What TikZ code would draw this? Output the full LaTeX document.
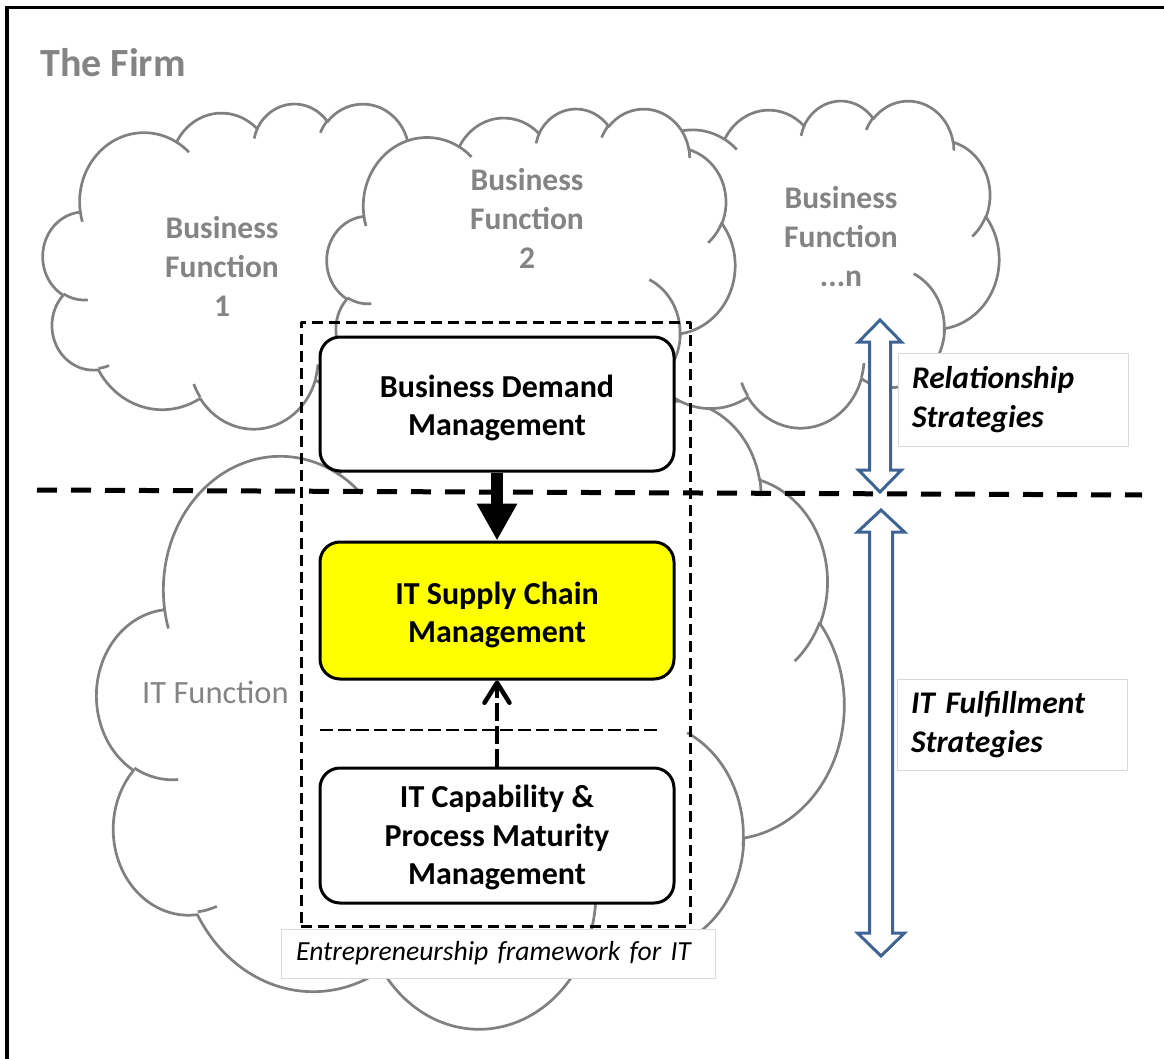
\documentclass[tikz,border=0pt]{standalone}
\usepackage{fontspec}
\setmainfont{Carlito}
\usetikzlibrary{arrows.meta}

\definecolor{cloudgray}{RGB}{128,128,128}
\definecolor{textgray}{RGB}{132,132,132}
\definecolor{arrowblue}{RGB}{62,100,150}
\definecolor{labelgray}{RGB}{217,217,217}
\definecolor{boxyellow}{RGB}{255,255,0}

% visual-angle (DrawingML) arc -> parametric angle
\newcommand\prepcloudarc[5]{%
  \pgfmathsetmacro\pcA{atan2((#2)*sin(#4),(#3)*cos(#4))}%
  \pgfmathsetmacro\pcB{atan2((#2)*sin((#4)+(#5)),(#3)*cos((#4)+(#5)))}%
  \pgfmathsetmacro\pcC{mod((\pcB)-(\pcA)+720,360)}%
  \expandafter\xdef\csname cloudS#1\endcsname{\pcA}%
  \expandafter\xdef\csname cloudD#1\endcsname{\pcC}%
}

\newcommand\drawcloud[4]{%
  \pgfmathsetmacro\cldxs{(#3)/43.2}%
  \pgfmathsetmacro\cldys{(#4)/43.2}%
  \begin{scope}[shift={(#1,#2)},xscale=\cldxs,yscale=\cldys]
    \filldraw[cloudstyle] (3.900,14.370)
      arc[start angle=\cloudSA,delta angle=\cloudDA,x radius=6.753,y radius=9.190]
      arc[start angle=\cloudSB,delta angle=\cloudDB,x radius=5.333,y radius=7.267]
      arc[start angle=\cloudSC,delta angle=\cloudDC,x radius=4.365,y radius=5.945]
      arc[start angle=\cloudSD,delta angle=\cloudDD,x radius=4.857,y radius=6.595]
      arc[start angle=\cloudSE,delta angle=\cloudDE,x radius=5.333,y radius=7.273]
      arc[start angle=\cloudSF,delta angle=\cloudDF,x radius=6.775,y radius=9.220]
      arc[start angle=\cloudSG,delta angle=\cloudDG,x radius=5.785,y radius=7.867]
      arc[start angle=\cloudSH,delta angle=\cloudDH,x radius=6.752,y radius=9.215]
      arc[start angle=\cloudSI,delta angle=\cloudDI,x radius=7.720,y radius=10.543]
      arc[start angle=\cloudSJ,delta angle=\cloudDJ,x radius=4.360,y radius=5.918]
      arc[start angle=\cloudSK,delta angle=\cloudDK,x radius=4.345,y radius=5.945]
      -- cycle;
    \draw[cloudstyle]
      (4.693,26.177) arc[start angle=\cloudSL,delta angle=\cloudDL,x radius=4.345,y radius=5.945]
      (6.928,34.899) arc[start angle=\cloudSM,delta angle=\cloudDM,x radius=4.360,y radius=5.918]
      (16.478,39.090) arc[start angle=\cloudSN,delta angle=\cloudDN,x radius=6.752,y radius=9.215]
      (28.827,34.751) arc[start angle=\cloudSO,delta angle=\cloudDO,x radius=6.752,y radius=9.215]
      (34.129,22.954) arc[start angle=\cloudSP,delta angle=\cloudDP,x radius=5.785,y radius=7.867]
      (41.798,15.354) arc[start angle=\cloudSQ,delta angle=\cloudDQ,x radius=5.333,y radius=7.273]
      (38.324,5.426) arc[start angle=\cloudSR,delta angle=\cloudDR,x radius=4.857,y radius=6.595]
      (29.078,3.952) arc[start angle=\cloudSS,delta angle=\cloudDS,x radius=4.857,y radius=6.595]
      (22.141,4.720) arc[start angle=\cloudST,delta angle=\cloudDT,x radius=4.365,y radius=5.945]
      (14.000,5.192) arc[start angle=\cloudSU,delta angle=\cloudDU,x radius=6.753,y radius=9.190]
      (4.127,15.789) arc[start angle=\cloudSV,delta angle=\cloudDV,x radius=6.753,y radius=9.190];
  \end{scope}}

\begin{document}
\begin{tikzpicture}[x=1pt,y=-1pt,line join=round,
  cloudstyle/.style={draw=cloudgray,fill=white,line width=2.7pt},
  cloudtext/.style={text=textgray,font=\fontsize{31.5}{39}\selectfont\bfseries,align=center,inner sep=0pt},
  mgmtbox/.style={draw=black,line width=3pt,rounded corners=20pt,minimum width=354pt,inner sep=0pt},
  boxtext/.style={font=\fontsize{32}{38.5}\selectfont\bfseries,align=center,inner sep=0pt},
  sidelabel/.style={draw=labelgray,line width=1pt,fill=white,inner sep=0pt,minimum width=230pt,
     text width=202pt,align=left,font=\fontsize{31.5}{39}\selectfont\bfseries\itshape},
  dblarrow/.style={draw=arrowblue,line width=3pt,fill=white,line join=miter}]

\prepcloudarc{A}{6.753}{9.190}{-190.48748}{123.78053}
\prepcloudarc{B}{5.333}{7.267}{-144.10238}{89.94523}
\prepcloudarc{C}{4.365}{5.945}{-145.80792}{99.72302}
\prepcloudarc{D}{4.857}{6.595}{-130.98607}{117.24173}
\prepcloudarc{E}{5.333}{7.273}{-78.70888}{109.02692}
\prepcloudarc{F}{6.775}{9.220}{-46.26725}{130.26900}
\prepcloudarc{G}{5.785}{7.867}{0.62502}{114.03333}
\prepcloudarc{H}{6.752}{9.215}{22.45160}{115.17255}
\prepcloudarc{I}{7.720}{10.543}{66.24263}{75.71102}
\prepcloudarc{J}{4.360}{5.918}{-274.94208}{146.73557}
\prepcloudarc{K}{4.345}{5.945}{-246.82850}{152.51885}
\prepcloudarc{L}{4.345}{5.945}{86.74200}{26.42950}
\prepcloudarc{M}{4.360}{5.918}{73.61047}{11.44747}
\prepcloudarc{N}{6.752}{9.215}{137.62415}{14.08110}
\prepcloudarc{O}{6.752}{9.215}{6.45327}{15.99835}
\prepcloudarc{P}{5.785}{7.867}{-70.29235}{77.27377}
\prepcloudarc{Q}{5.333}{7.273}{30.31803}{27.75150}
\prepcloudarc{R}{4.857}{6.595}{-13.74433}{14.85890}
\prepcloudarc{S}{4.857}{6.595}{-149.18145}{18.19537}
\prepcloudarc{T}{4.365}{5.945}{-163.49427}{17.68635}
\prepcloudarc{U}{6.753}{9.190}{-66.70695}{12.31935}
\prepcloudarc{V}{6.753}{9.190}{157.65435}{11.85817}

\useasboundingbox (0,0) rectangle (1164,1059);

% firm frame (only top and left edges fall inside the picture)
\draw[line width=3.4pt,line join=miter] (7,1075) -- (7,7.7) -- (1180,7.7);
\node[anchor=base west,inner sep=0pt,text=textgray,font=\fontsize{40}{48}\selectfont\bfseries] (firm) at (40,77) {The Firm};

% clouds (back to front)
\drawcloud{97}{399}{747}{628}
\drawcloud{593}{100}{406}{327}
\drawcloud{43}{103}{412}{325}
\drawcloud{327}{108}{408}{323}

\node[cloudtext] (bf1) at (222,266) {Business\\Function\\1};
\node[cloudtext] (bf2) at (527,218) {Business\\Function\\2};
\node[cloudtext] (bfn) at (841,237) {Business\\Function\\...n};
\node[text=textgray,font=\fontsize{32.5}{39}\selectfont,inner sep=0pt,anchor=base west] (itf) at (142,703) {IT Function};

% separating line
\draw[line width=5pt,dash pattern=on 20pt off 14pt] (37,490) -- (1142,495);

% entrepreneurship framework frame
\node[draw=black,line width=3pt,dash pattern=on 11pt off 6pt,minimum width=389pt,minimum height=604pt,inner sep=0pt] (frame) at (495.5,624) {};

% management boxes
\node[mgmtbox,fill=white,minimum height=134pt,
  label={[boxtext,yshift=-4pt]center:Business Demand\\Management}] (bd) at (497,404) {};
\node[mgmtbox,fill=boxyellow,minimum height=137pt,
  label={[boxtext,yshift=-4.5pt]center:IT Supply Chain\\Management}] (itsc) at (497,610.5) {};
\node[mgmtbox,fill=white,minimum height=135pt,
  label={[boxtext,yshift=-2pt]center:IT Capability \&\\Process Maturity\\Management}] (itcap) at (497,835.5) {};

\draw[line width=2.7pt,dash pattern=on 13pt off 5pt] (320,730) -- (660,730);

\draw[line width=12pt,-{Triangle[length=37pt,width=38pt]}] (bd.south) -- (itsc.north);
\draw[line width=4.5pt,dash pattern=on 18pt off 5pt,-{Straight Barb[length=20pt,width=25pt,line width=4.5pt,round]}] (itcap.north) -- (itsc.south);

% labels
\node[draw=labelgray,line width=1pt,fill=white,inner sep=0pt,minimum width=434pt,minimum height=49pt,
  text width=404pt,align=left,font=\fontsize{27.6}{32}\selectfont\itshape] (eflabel) at (498,953.5) {Entrepreneurship framework for IT};
\node[sidelabel,minimum height=93pt] (rel) at (1013,399.5) {Relationship\\Strategies};
\node[sidelabel,minimum height=91pt] (ful) at (1012,724.5) {IT Fulfillment\\Strategies};

% double arrows
\draw[dblarrow] (880,320) -- (901.5,342) -- (890.5,342) -- (890.5,470) -- (901.5,470) -- (880,492)
  -- (858.5,470) -- (869.5,470) -- (869.5,342) -- (858.5,342) -- cycle;
\draw[dblarrow] (881,510) -- (904.5,532) -- (892.5,532) -- (892.5,933) -- (904.5,933) -- (881,956)
  -- (857.5,933) -- (869.5,933) -- (869.5,532) -- (857.5,532) -- cycle;
\end{tikzpicture}
\end{document}
